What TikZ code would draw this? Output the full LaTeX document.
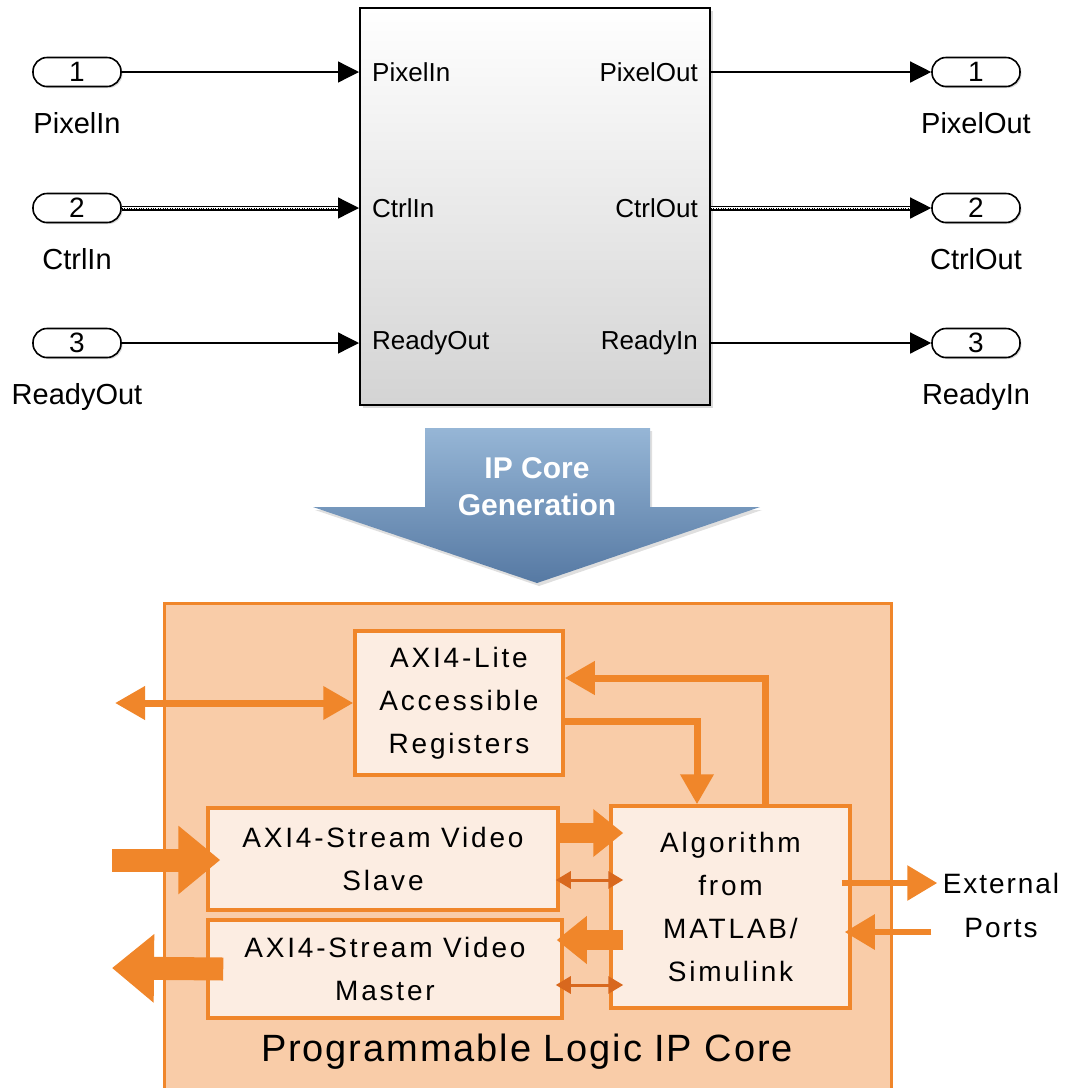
\documentclass[tikz,border=0pt]{standalone}
\usepackage{fontspec}
\setmainfont{Liberation Sans}
\usetikzlibrary{arrows.meta,calc,positioning,shadows}
\definecolor{iporange}{RGB}{240,134,42}
\definecolor{ipdark}{RGB}{216,104,30}
\definecolor{ipcorefill}{RGB}{249,204,168}
\definecolor{ipinner}{RGB}{252,237,226}
\definecolor{ipbluetop}{RGB}{150,182,214}
\definecolor{ipbluebot}{RGB}{86,121,163}
\tikzset{
  sl port/.style={draw=black,line width=1.6pt,fill=white,rounded corners=14pt,minimum width=88pt,minimum height=29pt,inner sep=0pt,font=\fontsize{28}{32}\selectfont,drop shadow={shadow xshift=1.5pt,shadow yshift=-1.5pt,opacity=.3}},
  sl name/.style={font=\fontsize{29}{33}\selectfont,inner sep=0pt},
  sl pin/.style={font=\fontsize{26}{30}\selectfont,inner sep=0pt},
  sl block/.style={draw=black,line width=2pt,minimum width=350pt,minimum height=397pt,top color=white,bottom color=black!17,drop shadow={shadow xshift=3pt,shadow yshift=-3pt,opacity=.3}},
  sl signal/.style={line width=1.3pt,-{Triangle[length=21pt,width=21pt]}},
  sl bus/.style={draw=black,line width=5pt,postaction={draw=white,line width=2.6pt,postaction={draw=black,line width=1pt,dash pattern=on 1pt off 1.4pt}}},
  ip text/.style={font=\fontsize{28}{43}\selectfont\addfontfeatures{LetterSpace=10},align=center},
  ip core/.style={draw=iporange,line width=3pt,fill=ipcorefill,anchor=north west,minimum width=727pt,minimum height=500pt},
  ip box/.style={draw=iporange,line width=3.5pt,fill=ipinner,inner sep=0pt,ip text},
  ip ctrl/.style={iporange,line width=7pt},
  ip fat/.style={iporange,line width=20pt,-{Triangle[length=30pt,width=46pt]}},
  ip big/.style={iporange,line width=23pt,-{Triangle[length=42pt,width=66pt]}},
  ip small/.style={ipdark,line width=3pt,{Triangle[length=15pt,width=17pt]}-{Triangle[length=15pt,width=17pt]}},
  ip ext/.style={iporange,line width=6pt,-{Triangle[length=30pt,width=34pt]}}
}

\begin{document}
\begin{tikzpicture}[x=1pt,y=-1pt]
\useasboundingbox (0,0) rectangle (1069,1088);
\clip (0,0) rectangle (1069,1088);

\node[sl block] (sub) at (535,206.5) {};
\node[sl pin,anchor=west] (pin1) at (372,72) {PixelIn};
\node[sl pin,anchor=west] (pin2) at (372,208) {CtrlIn};
\node[sl pin,anchor=west] (pin3) at (372,343) {ReadyOut};
\node[sl pin,anchor=east] (pout1) at (698,72) {PixelOut};
\node[sl pin,anchor=east] (pout2) at (698,208) {CtrlOut};
\node[sl pin,anchor=east] (pout3) at (698,343) {ReadyIn};

\node[sl port] (in1) at (77,72) {1};
\node[sl port] (in2) at (77,208) {2};
\node[sl port] (in3) at (77,343) {3};
\node[sl port] (out1) at (976,72) {1};
\node[sl port] (out2) at (976,208) {2};
\node[sl port] (out3) at (976,343) {3};
\node[sl name,below=25pt of in1] (nin1) {PixelIn};
\node[sl name,below=25pt of in2] (nin2) {CtrlIn};
\node[sl name,below=25pt of in3] (nin3) {ReadyOut};
\node[sl name,below=25pt of out1] (nout1) {PixelOut};
\node[sl name,below=25pt of out2] (nout2) {CtrlOut};
\node[sl name,below=25pt of out3] (nout3) {ReadyIn};

\draw[sl signal] (in1.east) -- (in1 -| sub.west);
\draw[sl bus] (in2.east) -- ($(in2 -| sub.west)+(-18,0)$);
\draw[sl signal] ($(in2 -| sub.west)+(-20,0)$) -- (in2 -| sub.west);
\draw[sl signal] (in3.east) -- (in3 -| sub.west);
\draw[sl signal] (sub.east |- out1) -- (out1.west);
\draw[sl bus] (sub.east |- out2) -- ($(out2.west)+(-18,0)$);
\draw[sl signal] ($(out2.west)+(-20,0)$) -- (out2.west);
\draw[sl signal] (sub.east |- out3) -- (out3.west);

\shade[top color=ipbluetop,bottom color=ipbluebot,drop shadow={shadow xshift=2pt,shadow yshift=-3pt,opacity=.25}]
  (425,428) -- (650,428) -- (650,507) -- (760,507) -- (537,583) -- (313,507) -- (425,507) -- cycle;
\node[align=center,text=white,font=\fontsize{30}{37}\selectfont\bfseries] (gen) at (537,487) {IP Core\\Generation};

\node[ip core] (core) at (163,602) {};
\node[ip text,font=\fontsize{38}{42}\selectfont\addfontfeatures{LetterSpace=5}] (title) at (527,1052) {Programmable Logic IP Core};
\node[ip box,minimum width=208pt,minimum height=144pt] (lite) at (459,703) {AXI4-Lite\\Accessible\\Registers};
\node[ip box,minimum width=350pt,minimum height=102pt] (slave) at (383,859) {AXI4-Stream Video\\Slave};
\node[ip box,minimum width=354pt,minimum height=98pt] (master) at (385,969) {AXI4-Stream Video\\Master};
\node[ip box,minimum width=239pt,minimum height=202pt] (algo) at (730.5,907) {Algorithm\\from\\MATLAB/\\Simulink};
\node[ip text,font=\fontsize{28}{44}\selectfont\addfontfeatures{LetterSpace=7}] (ext) at (1001,905) {External\\Ports};

\coordinate (axi) at (115,703);
\coordinate (vin) at (112,860);
\coordinate (vout) at (112,968);
\draw[ip ctrl,{Triangle[length=30pt,width=32pt]}-{Triangle[length=30pt,width=32pt]}] (axi) -- (lite.west);
\draw[ip ctrl,-{Triangle[length=30pt,width=32pt]}] ($(algo.north)+(34.5,0)$) |- ($(lite.east)+(0,-25)$);
\draw[ip ctrl,-{Triangle[length=30pt,width=32pt]}] ($(lite.east)+(0,18)$) -| ($(algo.north)+(-33.5,0)$);
\draw[ip big] (vin) -- ($(vin -| slave.west)+(14,0)$);
\draw[ip fat] ($(slave.east)+(0,-26)$) -- ($(slave.east -| algo.west)+(14,-26)$);
\draw[ip small] ($(slave.east)+(-4,21)$) -- ($(slave.east -| algo.west)+(14,21)$);
\draw[ip fat] ($(master.east -| algo.west)+(14,-29)$) -- ($(master.east)+(-7,-29)$);
\draw[ip small] ($(master.east)+(-8,16)$) -- ($(master.east -| algo.west)+(14,16)$);
\draw[ip big] ($(master.west)+(17,0)$) -- (vout);
\draw[ip ext] ($(algo.east)+(-10,-24)$) -- ($(ext.west |- algo.east)+(-2,-24)$);
\draw[ip ext] ($(ext.west |- algo.east)+(-8,25)$) -- ($(algo.east)+(-7,25)$);
\end{tikzpicture}
\end{document}
